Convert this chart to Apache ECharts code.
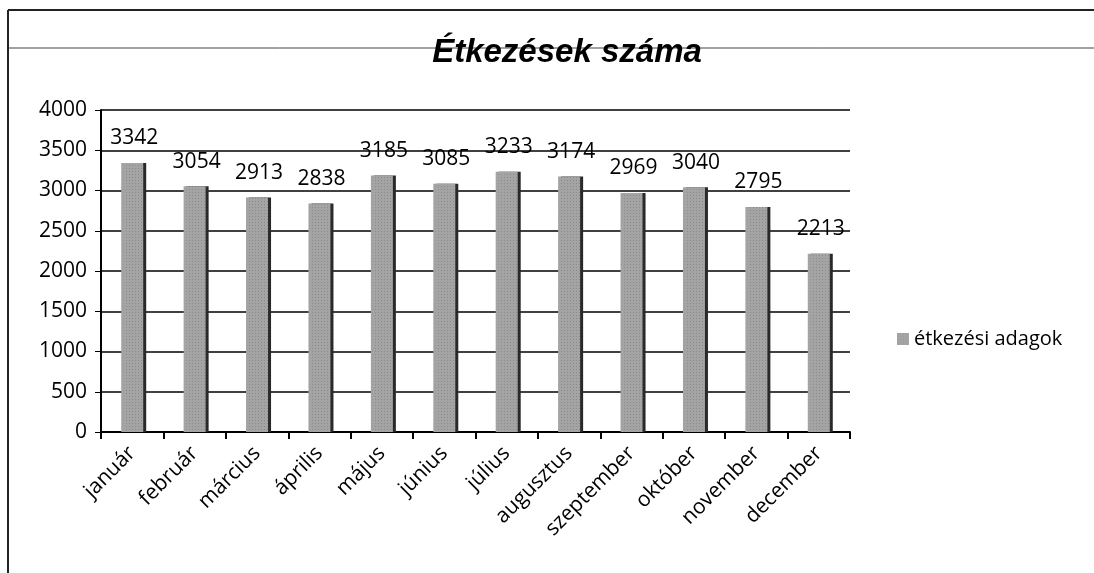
<!DOCTYPE html>
<html>
<head>
<meta charset="utf-8">
<style>
  html, body { margin: 0; padding: 0; background: #fff; }
  #chart { width: 1094px; height: 573px; }
</style>
<script src="https://cdn.jsdelivr.net/npm/echarts@6/dist/echarts.min.js"></script>
</head>
<body>
<div id="chart"></div>
<script>
// adatok
const months = ['január', 'február', 'március', 'április', 'május', 'június',
  'július', 'augusztus', 'szeptember', 'október', 'november', 'december']
const adagok = [3342, 3054, 2913, 2838, 3185, 3085, 3233, 3174, 2969, 3040, 2795, 2213]
const seriesName = 'étkezési adagok'
const chartTitle = 'Étkezések száma'

const font = '"Open Sans", "Noto Sans", sans-serif'

const chart = echarts.init(document.getElementById('chart'))

chart.setOption({
  backgroundColor: '#fff',
  animation: false,
  title: {
    text: chartTitle,
    left: 562,
    top: 31,
    textAlign: 'center',
    textStyle: {
      fontFamily: '"Liberation Sans", Arial, sans-serif',
      fontSize: 33,
      fontWeight: 'bold',
      fontStyle: 'italic',
      color: '#000',
    },
  },
  // keret vonalak (szkennelt lap)
  graphic: [
    { type: 'line', shape: { x1: 8, y1: 10, x2: 1094, y2: 10 }, style: { stroke: '#222', lineWidth: 2 } },
    { type: 'line', shape: { x1: 8, y1: 10, x2: 8, y2: 573 }, style: { stroke: '#222', lineWidth: 2 } },
    { type: 'line', shape: { x1: 8, y1: 48, x2: 1094, y2: 48 }, style: { stroke: '#444', lineWidth: 1 }, z: -1 },
  ],
  legend: {
    orient: 'vertical',
    left: 892,
    top: 324,
    itemWidth: 12,
    itemHeight: 12,
    itemGap: 8,
    icon: 'rect',
    textStyle: { fontFamily: font, fontSize: 20, color: '#000' },
    data: [seriesName],
  },
  grid: {
    left: 101,
    right: 244,
    top: 110,
    bottom: 141,
  },
  xAxis: {
    type: 'category',
    data: months,
    boundaryGap: true,
    axisLine: { lineStyle: { color: '#000', width: 2 } },
    axisTick: { show: true, length: 7, inside: false, lineStyle: { color: '#000', width: 2 } },
    axisLabel: {
      rotate: 45,
      margin: 18,
      fontFamily: font,
      fontSize: 21,
      color: '#000',
    },
  },
  yAxis: {
    type: 'value',
    min: 0,
    max: 4000,
    interval: 500,
    axisLine: { show: true, lineStyle: { color: '#000', width: 2 } },
    axisTick: { show: true, length: 6, lineStyle: { color: '#000', width: 1 } },
    splitLine: { lineStyle: { color: '#000', width: 1.5 } },
    axisLabel: {
      margin: 14,
      formatter: v => String(v),
      fontFamily: font,
      fontSize: 21,
      color: '#000',
    },
  },
  series: [
    {
      name: seriesName,
      type: 'bar',
      data: adagok,
      barWidth: 22,
      itemStyle: {
        color: '#a4a4a4',
        shadowColor: '#2a2a2a',
        shadowOffsetX: 3,
        shadowBlur: 0,
        decal: {
          symbol: 'rect',
          symbolSize: 0.6,
          dashArrayX: [1, 2],
          dashArrayY: [1, 2],
          color: 'rgba(60,60,60,0.35)',
        },
      },
      label: {
        show: true,
        position: 'top',
        distance: 14,
        offset: [2, 0],
        fontFamily: font,
        fontSize: 21,
        color: '#000',
      },
    },
  ],
})
</script>
</body>
</html>
